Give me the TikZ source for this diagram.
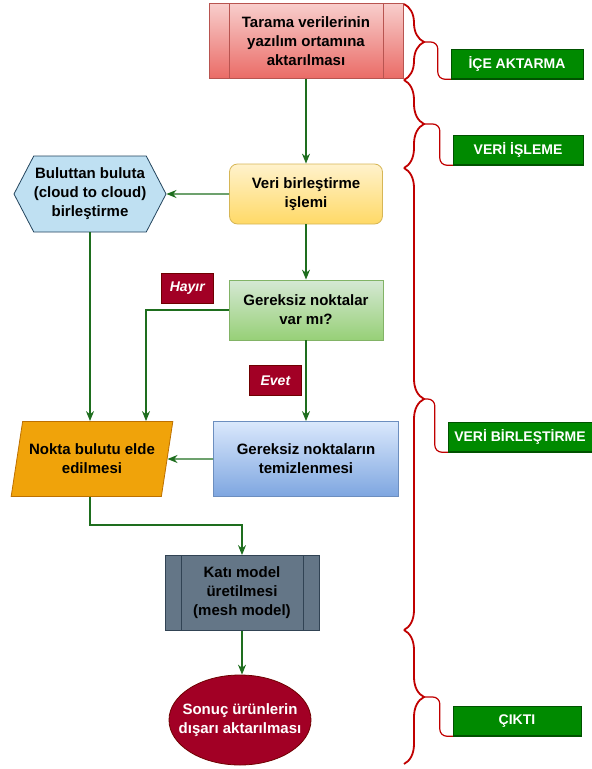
\documentclass[tikz,border=0pt]{standalone}
\usepackage{fontspec}
\setmainfont{Liberation Sans}
\usepackage{xcolor}
\usetikzlibrary{positioning,shapes.geometric,shapes.symbols,decorations.pathreplacing,arrows.meta}

\definecolor{redtop}{HTML}{F8CECC}
\definecolor{redbot}{HTML}{EA6B66}
\definecolor{redline}{HTML}{B85450}
\definecolor{yeltop}{HTML}{FFF2CC}
\definecolor{yelbot}{HTML}{FFD966}
\definecolor{yelline}{HTML}{D6B656}
\definecolor{grntop}{HTML}{D5E8D4}
\definecolor{grnbot}{HTML}{97D077}
\definecolor{grnline}{HTML}{82B366}
\definecolor{blutop}{HTML}{DAE8FC}
\definecolor{blubot}{HTML}{7EA6E0}
\definecolor{bluline}{HTML}{6C8EBF}
\definecolor{hexfill}{HTML}{BFE0F2}
\definecolor{hexline}{HTML}{23445D}
\definecolor{orangefill}{HTML}{F0A30A}
\definecolor{orangeline}{HTML}{BD7000}
\definecolor{slatefill}{HTML}{647687}
\definecolor{slateline}{HTML}{314354}
\definecolor{wine}{HTML}{A20025}
\definecolor{wineline}{HTML}{6F0000}
\definecolor{labgreen}{HTML}{008A00}
\definecolor{labline}{HTML}{005200}
\definecolor{flowgreen}{HTML}{1E6E1E}
\definecolor{bracered}{HTML}{C00000}

\begin{document}
\begin{tikzpicture}[
            x=1pt, y=-1pt,
            box/.style={draw, rectangle, line width=0.8pt, align=center, inner sep=2pt,
                        font=\fontsize{15}{19}\selectfont\bfseries},
            bars/.style={path picture={
                \draw[line width=0.8pt, #1] ([xshift=\barw]path picture bounding box.north west) -- ([xshift=\barw]path picture bounding box.south west)
                    ([xshift=-\barw]path picture bounding box.north east) -- ([xshift=-\barw]path picture bounding box.south east);}},
            tag/.style={draw=wineline, fill=wine, text=white, minimum width=52pt, minimum height=30pt, inner sep=1pt,
                        font=\fontsize{14}{16}\selectfont\bfseries\itshape},
            phase/.style={draw=labline, fill=labgreen, text=white, minimum height=30pt, inner sep=1pt,
                        font=\fontsize{14}{16}\selectfont\bfseries,
                        path picture={\draw[labline, line width=3pt] (path picture bounding box.south west) -- (path picture bounding box.south east);}},
            arrow/.style={->, >={Stealth[length=10pt, width=8pt]}, draw=flowgreen, line width=1.2pt},
            brace/.style={decorate, decoration={brace, amplitude=20pt}, draw=bracered, line width=1.8pt},
            bracelink/.style={draw=bracered, line width=1.2pt, rounded corners=7pt}
        ]
            \useasboundingbox (0,0) rectangle (592,769);
            \def\barw{20pt}

            % --- FLOW: TOP TO BOTTOM ---
            \node[box, bars, top color=redtop, bottom color=redbot, draw=redline, minimum width=194pt, minimum height=75pt] (tarama) at (306,41) {Tarama verilerinin\\yazılım ortamına\\aktarılması};
            \node[box, rounded corners=8pt, top color=yeltop, bottom color=yelbot, draw=yelline, minimum width=153pt, minimum height=60pt] (veri) at (306,194) {Veri birleştirme\\işlemi};
            \node[box, signal, signal to=west and east, signal pointer angle=125, fill=hexfill, draw=hexline, minimum width=140pt, minimum height=76pt, inner xsep=0pt] (bulut) at (90,194) {Buluttan buluta\\(cloud to cloud)\\birleştirme};
            \node[box, top color=grntop, bottom color=grnbot, draw=grnline, minimum width=154pt, minimum height=60pt] (gereksiz) at (306,310) {Gereksiz noktalar\\var mı?};
            \node[box, top color=blutop, bottom color=blubot, draw=bluline, minimum width=185pt, minimum height=75pt] (temiz) at (306,459) {Gereksiz noktaların\\temizlenmesi};
            \node[box, trapezium, trapezium left angle=73, trapezium right angle=107, trapezium stretches=true, fill=orangefill, draw=orangeline, minimum width=162pt, minimum height=75pt, inner xsep=0pt] (nokta) at (92,459) {Nokta bulutu elde\\edilmesi};
            {\def\barw{16pt}
            \node[box, bars, fill=slatefill, draw=slateline, minimum width=154pt, minimum height=75pt] (kati) at (242,593) {Katı model\\üretilmesi\\(mesh model)};}
            \node[box, ellipse, fill=wine, draw=wineline, text=white, minimum width=142pt, minimum height=90pt, inner sep=0pt] (sonuc) at (240,720) {\makebox[92pt]{Sonuç ürünlerin}\\\makebox[92pt]{dışarı aktarılması}};

            % Green connectors
            \draw[arrow] (tarama) -- (veri);
            \draw[arrow] (veri) -- (bulut);
            \draw[arrow] (veri) -- (gereksiz);
            \draw[arrow] (gereksiz.west) -| node[tag, pos=0.25, above=6pt] (hayir) {Hayır} ([xshift=54pt]nokta.north);
            \draw[arrow] (gereksiz) -- node[tag, left=4pt] (evet) {Evet} (temiz);
            \draw[arrow] (bulut.south) -- (bulut.south |- nokta.north);
            \draw[arrow] (temiz) -- (nokta);
            \draw[arrow] (nokta.south -| bulut.south) -- ++(0,28) -| (kati.north);
            \draw[arrow] (kati.south) -- (kati.south |- sonuc.north);

            % --- RIGHT SIDE: PHASES ---
            \node[phase, minimum width=132pt] (ice) at (517,64) {İÇE AKTARMA};
            \node[phase, minimum width=130pt] (isleme) at (518,150) {VERİ İŞLEME};
            \node[phase, minimum width=144pt] (birles) at (520,437) {VERİ BİRLEŞTİRME};
            \node[phase, minimum width=128pt] (cikti) at (517,721) {ÇIKTI};

            % Red braces
            \draw[brace] (404,4) -- (404,80);
            \draw[brace] (404,80) -- (404,168);
            \draw[brace] (404,168) -- (404,630);
            \draw[brace] (404,630) -- (404,764);
            \coordinate (tip1) at (424,42);
            \coordinate (tip2) at (424,124);
            \coordinate (tip3) at (424,399);
            \coordinate (tip4) at (424,697);
            \draw[bracelink] (tip1) -| ([xshift=-13pt]ice.south west) -- (ice.south west);
            \draw[bracelink] (tip2) -| ([xshift=-13pt]isleme.south west) -- (isleme.south west);
            \draw[bracelink] (tip3) -| ([xshift=-13pt]birles.south west) -- (birles.south west);
            \draw[bracelink] (tip4) -| ([xshift=-13pt]cikti.south west) -- (cikti.south west);

        \end{tikzpicture}
\end{document}
